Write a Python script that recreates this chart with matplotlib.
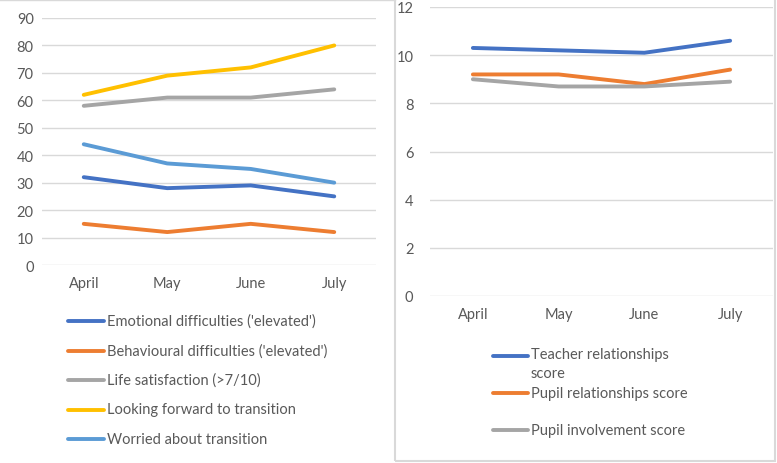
import matplotlib
matplotlib.use("Agg")
import matplotlib.pyplot as plt
from matplotlib.lines import Line2D
from matplotlib.patches import Rectangle

plt.rcParams["font.family"] = ["Lato", "DejaVu Sans"]

W, H = 777, 464

months = ["April", "May", "June", "July"]

# left chart: percentages
left_labels = [
    "Emotional difficulties ('elevated')",
    "Behavioural difficulties ('elevated')",
    "Life satisfaction (>7/10)",
    "Looking forward to transition",
    "Worried about transition",
]
emotional = [32, 28, 29, 25]
behavioural = [15, 12, 15, 12]
life_sat = [58, 61, 61, 64]
looking_fwd = [62, 69, 72, 80]
worried = [44, 37, 35, 30]
left_series = [emotional, behavioural, life_sat, looking_fwd, worried]
left_colors = ["#4472C4", "#ED7D31", "#A5A5A5", "#FFC000", "#5B9BD5"]

# right chart: scores
right_labels = ["Teacher relationships\nscore", "Pupil relationships score", "Pupil involvement score"]
teacher = [10.3, 10.2, 10.1, 10.6]
pupil_rel = [9.2, 9.2, 8.8, 9.4]
involvement = [9.0, 8.7, 8.7, 8.9]
right_series = [teacher, pupil_rel, involvement]
right_colors = ["#4472C4", "#ED7D31", "#A5A5A5"]

TXT = "#595959"
GRID = "#D9D9D9"
LW = 2.8


def px(x0, y0, x1, y1):
    # pixel box (top-left origin) -> figure fraction rect
    return [x0 / W, 1 - y1 / H, (x1 - x0) / W, (y1 - y0) / H]


def style(ax, ymax, step, pad):
    ax.set_xlim(-0.5, 3.5)
    ax.set_ylim(0, ymax)
    ax.set_yticks(range(0, ymax + 1, step))
    ax.set_xticks(range(4))
    ax.set_xticklabels(months)
    ax.grid(axis="y", color=GRID, linewidth=1)
    ax.set_axisbelow(True)
    for s in ax.spines.values():
        s.set_visible(False)
    ax.tick_params(length=0, colors=TXT, labelsize=10.5)
    ax.tick_params(axis="y", pad=pad)
    ax.tick_params(axis="x", pad=8)


fig = plt.figure(figsize=(W / 100, H / 100), dpi=100)

# panel borders
fig.add_artist(Line2D([0, 395 / W], [1 - 1 / H, 1 - 1 / H], color=GRID, lw=1))
fig.add_artist(Rectangle((395 / W, 1 - 462 / H), 380 / W, 470 / H,
                         fill=False, edgecolor=GRID, lw=1.5))

ax1 = fig.add_axes(px(42, 19, 376, 266))
for vals, c in zip(left_series, left_colors):
    ax1.plot(range(4), vals, color=c, lw=LW, solid_capstyle="round")
style(ax1, 90, 10, 6)

ax2 = fig.add_axes(px(430, 8, 773, 297))
for vals, c in zip(right_series, right_colors):
    ax2.plot(range(4), vals, color=c, lw=LW, solid_capstyle="round")
style(ax2, 12, 2, 12)

# legends drawn by hand to match layout
for i, (lab, c) in enumerate(zip(left_labels, left_colors)):
    y = 1 - (322 + i * 29.5) / H
    fig.add_artist(Line2D([68 / W, 104 / W], [y, y], color=c, lw=LW, solid_capstyle="round"))
    fig.text(107 / W, y, lab, color=TXT, fontsize=10.5, va="center", ha="left")

for lab, c, yp in zip(right_labels, right_colors, [357, 394, 431]):
    y = 1 - yp / H
    fig.add_artist(Line2D([493 / W, 528 / W], [y, y], color=c, lw=LW, solid_capstyle="round"))
    if "\n" in lab:
        fig.text(531 / W, y + 9 / H, lab, color=TXT, fontsize=10.5,
                 ha="left", va="top", linespacing=1.5)
    else:
        fig.text(531 / W, y, lab, color=TXT, fontsize=10.5, ha="left", va="center")

fig.savefig("out.png", dpi=100)
